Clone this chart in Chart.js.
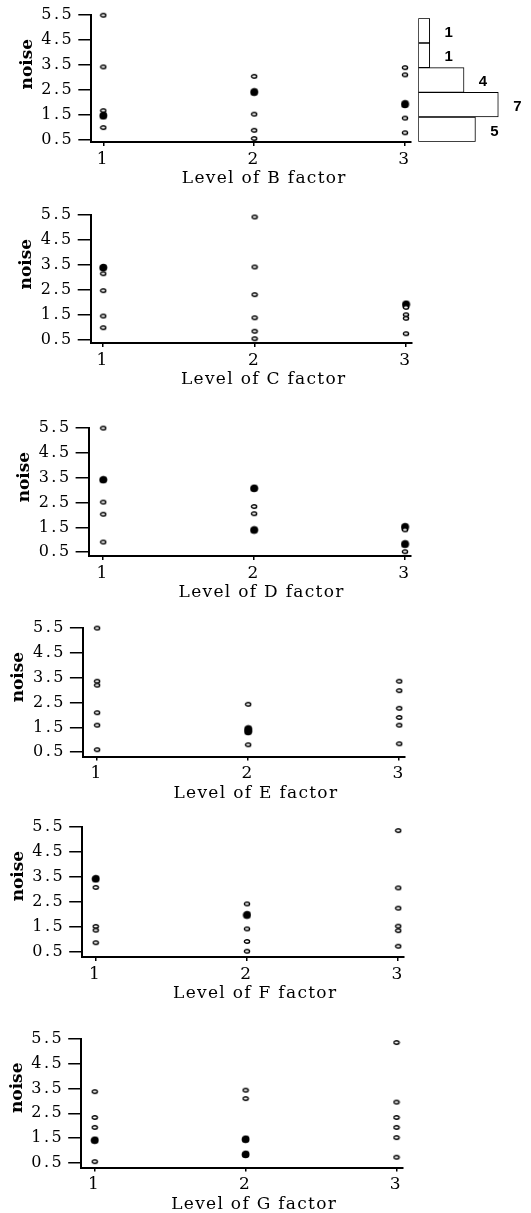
<!DOCTYPE html>
<html>
<head>
<meta charset="utf-8">
<script src="https://cdn.jsdelivr.net/npm/chart.js@4.4.1/dist/chart.umd.min.js"></script>
<style>
  html, body { margin: 0; padding: 0; background: #fff; overflow: hidden; }
  #page { position: relative; width: 531px; height: 1213px; }
  #page canvas { position: absolute; }
</style>
</head>
<body>
<div id="page"></div>
<script>
// noise values, one list per factor level (1, 2, 3)
const levels = [1, 2, 3];
const noiseTicks = [0.5, 1.5, 2.5, 3.5, 4.5, 5.5];
const factorNames = ['B', 'C', 'D', 'E', 'F', 'G'];

const noiseB = [[5.5, 3.42, 1.66, 1.49, 1.43, 0.98], [3.04, 2.44, 2.38, 1.52, 0.87, 0.54], [3.39, 3.1, 1.96, 1.89, 1.36, 0.77]];
const noiseC = [[3.42, 3.37, 3.15, 2.47, 1.45, 0.98], [5.43, 3.42, 2.31, 1.38, 0.84, 0.54], [1.95, 1.89, 1.8, 1.5, 1.36, 0.74]];
const noiseD = [[5.5, 3.44, 3.4, 2.52, 2.03, 0.91], [3.1, 3.05, 2.34, 2.05, 1.42, 1.37], [1.55, 1.49, 1.4, 0.86, 0.8, 0.52]];
const noiseE = [[5.5, 3.36, 3.2, 2.09, 1.59, 0.6], [2.43, 1.46, 1.41, 1.36, 1.31, 0.8], [3.36, 2.98, 2.27, 1.9, 1.59, 0.84]];
const noiseF = [[3.46, 3.41, 3.09, 1.53, 1.38, 0.88], [2.43, 2.02, 1.96, 1.43, 0.93, 0.54], [5.36, 3.07, 2.26, 1.54, 1.36, 0.74]];
const noiseG = [[3.37, 2.33, 1.93, 1.44, 1.39, 0.55], [3.43, 3.09, 1.48, 1.43, 0.87, 0.82], [5.35, 2.95, 2.33, 1.93, 1.52, 0.73]];

// histogram of all 18 noise values (drawn beside the B panel)
const histBins = ['4.4-5.4', '3.4-4.4', '2.4-3.4', '1.4-2.4', '0.4-1.4'];
const histCounts = [1, 1, 4, 7, 5];

const allNoise = [noiseB, noiseC, noiseD, noiseE, noiseF, noiseG];

// where each panel's axes sit on the page (y of 5.5 tick, y of 0.5 tick, x-axis line, y-axis line, x of levels 1 and 3)
const panelBoxes = [
    { top: 15.2, y05: 139.5, bottom: 142, left: 91.3, x1: 103.3, x3: 405 },
    { top: 215.2, y05: 339.7, bottom: 343, left: 90.7, x1: 103.2, x3: 406 },
    { top: 428.1, y05: 552.2, bottom: 556, left: 88.6, x1: 103.2, x3: 405 },
    { top: 628.1, y05: 752.2, bottom: 756.5, left: 82.9, x1: 97.1, x3: 399.2 },
    { top: 827.1, y05: 952.2, bottom: 957, left: 82.2, x1: 95.7, x3: 398.2 },
    { top: 1038.8, y05: 1162.9, bottom: 1167.5, left: 81.2, x1: 94.7, x3: 396.5 }
];

const serif = "'DejaVu Serif', 'Liberation Serif', serif";

function makeDot(filled) {
    const c = document.createElement('canvas');
    c.width = filled ? 9 : 8;
    c.height = filled ? 8 : 7;
    const g = c.getContext('2d');
    g.beginPath();
    g.ellipse(c.width / 2, c.height / 2, filled ? 3.1 : 2.6, filled ? 2.5 : 1.8, 0, 0, Math.PI * 2);
    g.fillStyle = filled ? '#000' : '#fff';
    g.fill();
    g.lineWidth = 1.4;
    g.strokeStyle = '#000';
    g.stroke();
    return c;
}
const dotOpen = makeDot(false);
const dotFull = makeDot(true);

// points that sit on top of each other print as a solid blob
function crowded(vals, v) {
    return vals.filter(u => Math.abs(u - v) < 0.08).length > 1;
}

const spacedText = {
    id: 'spacedText',
    beforeDraw(chart) {
        chart.ctx.letterSpacing = '2.5px';
    }
};

const panelTitles = {
    id: 'panelTitles',
    afterDraw(chart, args, opts) {
        const { ctx, chartArea } = chart;
        ctx.save();
        ctx.fillStyle = '#000';
        ctx.textAlign = 'center';
        ctx.textBaseline = 'middle';
        ctx.font = '17px ' + serif;
        ctx.letterSpacing = '1.3px';
        ctx.fillText(opts.xTitle, chartArea.left + 173, chartArea.bottom + 37);
        ctx.translate(chartArea.left - 64, chartArea.top + 49);
        ctx.rotate(-Math.PI / 2);
        ctx.font = 'bold 17px ' + serif;
        ctx.letterSpacing = '0px';
        ctx.fillText(opts.yTitle, 0, 0);
        ctx.restore();
    }
};

const page = document.getElementById('page');

function addCanvas(left, top, w, h) {
    const c = document.createElement('canvas');
    c.width = w;
    c.height = h;
    c.style.left = left + 'px';
    c.style.top = top + 'px';
    c.style.width = w + 'px';
    c.style.height = h + 'px';
    page.appendChild(c);
    return c;
}

function drawPanel(idx) {
    const b = panelBoxes[idx];
    const noise = allNoise[idx];
    const canvasTop = Math.floor(b.top) - 20;
    const areaBottom = b.bottom - canvasTop;
    const height = Math.ceil(areaBottom + 56);
    const unitX = (b.x3 - b.x1) / 2;
    const unitY = (b.y05 - b.top) / 5;
    const xMin = 1 - (b.x1 - b.left) / unitX;
    const xMax = 3 + 6 / unitX;
    const yMin = 0.5 - (b.bottom - b.y05) / unitY;
    const chartRight = b.x3 + 6;

    const canvas = addCanvas(0, canvasTop, 531, height);

    new Chart(canvas, {
        type: 'scatter',
        data: {
            datasets: levels.map((lv, i) => ({
                label: 'Level ' + lv,
                data: noise[i].map(v => ({ x: lv, y: v })),
                pointStyle: ctx => crowded(noise[i], ctx.raw.y) ? dotFull : dotOpen,
                pointRadius: 3,
                clip: false
            }))
        },
        options: {
            responsive: false,
            animation: false,
            events: [],
            layout: { padding: { top: b.top - canvasTop, left: 0, right: 531 - chartRight, bottom: 0 } },
            plugins: {
                legend: { display: false },
                tooltip: { enabled: false },
                panelTitles: { xTitle: 'Level of ' + factorNames[idx] + ' factor', yTitle: 'noise' }
            },
            scales: {
                x: {
                    type: 'linear',
                    min: xMin,
                    max: xMax,
                    afterBuildTicks: s => { s.ticks = levels.map(v => ({ value: v })); },
                    afterFit: s => { s.height = height - areaBottom; },
                    ticks: {
                        color: '#000',
                        padding: 3,
                        font: { family: serif, size: 17 },
                        callback: v => String(v)
                    },
                    grid: { drawOnChartArea: false, drawTicks: true, tickLength: 4, color: '#000', lineWidth: 1.5 },
                    border: { display: true, color: '#000', width: 2 }
                },
                y: {
                    type: 'linear',
                    min: yMin,
                    max: 5.5,
                    afterBuildTicks: s => { s.ticks = noiseTicks.map(v => ({ value: v })); },
                    afterFit: s => { s.width = b.left; },
                    ticks: {
                        color: '#000',
                        padding: 4,
                        font: { family: serif, size: 16 },
                        callback: v => v.toFixed(1)
                    },
                    grid: { drawOnChartArea: false, drawTicks: true, tickLength: 13, color: '#000', lineWidth: 1.5 },
                    border: { display: true, color: '#000', width: 2 }
                }
            }
        },
        plugins: [spacedText, panelTitles]
    });
}

factorNames.forEach((f, i) => drawPanel(i));

// side histogram with counts written next to each bar
const countLabels = {
    id: 'countLabels',
    afterDatasetsDraw(chart) {
        const { ctx } = chart;
        const meta = chart.getDatasetMeta(0);
        ctx.save();
        ctx.fillStyle = '#000';
        ctx.font = "bold 15px 'Liberation Sans', Arial, sans-serif";
        ctx.textAlign = 'center';
        ctx.textBaseline = 'middle';
        meta.data.forEach((bar, i) => {
            ctx.fillText(String(histCounts[i]), bar.x + 19, bar.y + 2);
        });
        ctx.restore();
    }
};

const histCanvas = addCanvas(400, 0, 131, 160);
new Chart(histCanvas, {
    type: 'bar',
    data: {
        labels: histBins,
        datasets: [{
            data: histCounts,
            backgroundColor: '#fff',
            borderColor: '#000',
            borderWidth: 1,
            borderSkipped: false,
            categoryPercentage: 1,
            barPercentage: 1
        }]
    },
    options: {
        indexAxis: 'y',
        responsive: false,
        animation: false,
        events: [],
        layout: { padding: { left: 18.3, top: 18.3, right: 0, bottom: 18.3 } },
        plugins: { legend: { display: false }, tooltip: { enabled: false } },
        scales: {
            x: { display: false, min: 0, max: 9.86 },
            y: { display: false }
        }
    },
    plugins: [countLabels]
});
</script>
</body>
</html>
